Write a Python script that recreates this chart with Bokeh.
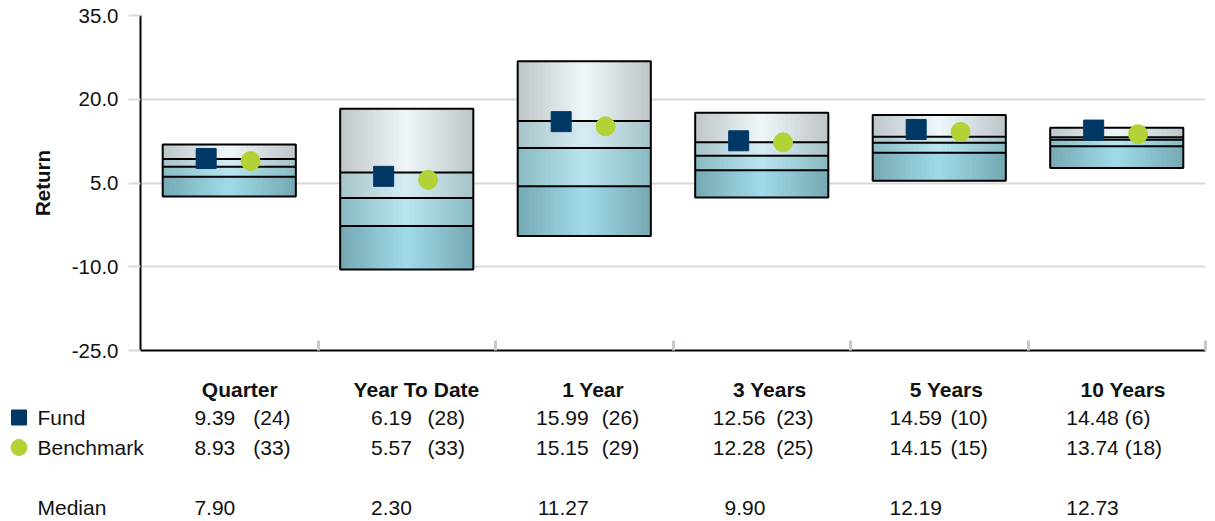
import numpy as np
from bokeh.plotting import figure
from bokeh.layouts import column
from bokeh.models import Range1d, FixedTicker, NumeralTickFormatter
from bokeh.embed import file_html
from bokeh.resources import INLINE
from bokeh.core.properties import value

# ---------------- data ----------------
categories = ["Quarter", "Year To Date", "1 Year", "3 Years", "5 Years", "10 Years"]
pct05 = [11.9, 18.3, 26.8, 17.6, 17.2, 14.9]
pct25 = [9.3, 6.9, 16.1, 12.3, 13.3, 13.2]
median = [7.90, 2.30, 11.27, 9.90, 12.19, 12.73]
pct75 = [6.1, -2.7, 4.4, 7.3, 10.4, 11.6]
pct95 = [2.6, -10.5, -4.5, 2.4, 5.4, 7.7]
fund = [9.39, 6.19, 15.99, 12.56, 14.59, 14.48]
fund_rank = [24, 28, 26, 23, 10, 6]
bench = [8.93, 5.57, 15.15, 12.28, 14.15, 13.74]
bench_rank = [33, 33, 29, 25, 15, 18]
y_ticks = [-25, -10, 5, 20, 35]

# ---------------- layout helpers ----------------
FONT = "Liberation Sans"
TXT = "#111111"
W, H = 1215, 521
H_TOP = 370
frame_l, frame_r, frame_t, frame_b = 140, 1205, 15, 350  # page pixels
n = len(categories)
px_x = (frame_r - frame_l) / n


def x_at(page_x):
    return -0.5 + (page_x - frame_l) / px_x


p = figure(width=W, height=H_TOP, x_range=Range1d(-0.5, n - 0.5),
           y_range=Range1d(y_ticks[0], y_ticks[-1]),
           output_backend="svg", toolbar_location=None,
           min_border_left=frame_l, min_border_right=W - frame_r,
           min_border_top=frame_t, min_border_bottom=H_TOP - frame_b)
p.outline_line_color = None
p.background_fill_color = "white"
p.border_fill_color = "white"

# axes
p.xgrid.grid_line_color = None
p.ygrid.grid_line_color = "#d9d9d9"
p.ygrid.grid_line_width = 2
p.yaxis.ticker = FixedTicker(ticks=y_ticks)
p.yaxis.formatter = NumeralTickFormatter(format="0.0")
p.yaxis.minor_tick_line_color = None
p.yaxis.major_tick_in = 0
p.yaxis.major_tick_out = 12
p.yaxis.major_tick_line_color = "#d9d9d9"
p.yaxis.major_tick_line_width = 2
p.yaxis.axis_line_color = "black"
p.yaxis.axis_line_width = 2
p.yaxis.major_label_standoff = 10
p.yaxis.major_label_text_font = FONT
p.yaxis.major_label_text_font_size = "20.5px"
p.yaxis.major_label_text_color = TXT
p.yaxis.axis_label = "Return"
p.yaxis.axis_label_text_font = FONT
p.yaxis.axis_label_text_font_size = "20.5px"
p.yaxis.axis_label_text_font_style = "bold"
p.yaxis.axis_label_text_color = TXT
p.yaxis.axis_label_standoff = 15

p.xaxis.ticker = FixedTicker(ticks=[i + 0.5 for i in range(n)])
p.xaxis.minor_tick_line_color = None
p.xaxis.major_tick_in = 10
p.xaxis.major_tick_out = 0
p.xaxis.major_tick_line_color = "#c3cbcf"
p.xaxis.major_tick_line_width = 3
p.xaxis.axis_line_color = "black"
p.xaxis.axis_line_width = 2
p.xaxis.major_label_text_font_size = "1px"
p.xaxis.major_label_text_color = None
p.xaxis.major_label_standoff = 0

# ---------------- gradient boxes ----------------
box_w = 0.75
N = 32
seg_colors = [  # (edge, centre)
    ((189, 197, 201), (240, 247, 249)),
    ((165, 195, 202), (214, 237, 242)),
    ((138, 186, 195), (184, 229, 239)),
    ((117, 169, 180), (160, 219, 233)),
]
levels = [pct05, pct25, median, pct75, pct95]


def mix(c1, c2, t):
    return "#%02x%02x%02x" % tuple(int(round(a * (1 - t) + b * t)) for a, b in zip(c1, c2))


L, R, T, B, C = [], [], [], [], []
for i in range(n):
    x0 = i - box_w / 2
    for s in range(4):
        edge, centre = seg_colors[s]
        for j in range(N):
            t = abs((j + 0.5) / N - 0.5) * 2
            L.append(x0 + j * box_w / N)
            R.append(x0 + (j + 1) * box_w / N)
            T.append(levels[s][i])
            B.append(levels[s + 1][i])
            C.append(mix(centre, edge, t))
p.quad(left=L, right=R, top=T, bottom=B, fill_color=C, line_color=C, line_width=1)

idx = np.arange(n)
p.quad(left=idx - box_w / 2, right=idx + box_w / 2, top=pct05, bottom=pct95,
       fill_color=None, line_color="black", line_width=2)
for lv in (pct25, median, pct75):
    p.segment(x0=idx - box_w / 2, x1=idx + box_w / 2, y0=lv, y1=lv,
              line_color="black", line_width=2)

FUND_C = "#003865"
BENCH_C = "#b2d235"
p.scatter(x=idx - 0.13, y=fund, marker="square", size=20, fill_color=FUND_C, line_color=FUND_C)
p.scatter(x=idx + 0.12, y=bench, marker="circle", size=19, fill_color=BENCH_C, line_color=BENCH_C)

# ---------------- table below (second figure, y in page pixels) ----------------
t = figure(width=W, height=H - H_TOP, x_range=Range1d(x_at(0), x_at(W)),
           y_range=Range1d(H, H_TOP), output_backend="svg", toolbar_location=None,
           x_axis_location=None, y_axis_location=None, min_border=0)
t.frame_align = False
t.outline_line_color = None
t.grid.grid_line_color = None
t.background_fill_color = "white"
t.border_fill_color = "white"

row_y = {"head": 389, "fund": 417, "bench": 447, "median": 507}
common = dict(text_font=value(FONT), text_font_size="21px", text_color=TXT,
              text_baseline="middle")

head_off = [10.5 - 0.8 * i for i in range(n)]
val_off = [6 - 0.8 * i for i in range(n)]
rank_off = [24 - 3.2 * i for i in range(n)]

t.text(x=list(idx), y=[row_y["head"]] * n, text=categories, x_offset=head_off,
       text_align="center", text_font_style="bold", **common)

for key, vals, ranks in (("fund", fund, fund_rank), ("bench", bench, bench_rank)):
    t.text(x=list(idx), y=[row_y[key]] * n, text=["%.2f" % v for v in vals],
           x_offset=val_off, text_align="right", **common)
    t.text(x=list(idx), y=[row_y[key]] * n, text=["(%d)" % r for r in ranks],
           x_offset=rank_off, text_align="left", **common)

t.text(x=list(idx), y=[row_y["median"]] * n, text=["%.2f" % v for v in median],
       x_offset=val_off, text_align="right", **common)

t.text(x=[x_at(37)] * 3, y=[row_y["fund"], row_y["bench"], row_y["median"]],
       text=["Fund", "Benchmark", "Median"], text_align="left", **common)

t.scatter(x=[x_at(18.5)], y=[row_y["fund"]], marker="square", size=15,
          fill_color=FUND_C, line_color=FUND_C)
t.scatter(x=[x_at(18.5)], y=[row_y["bench"]], marker="circle", size=16,
          fill_color=BENCH_C, line_color=BENCH_C)

layout = column(p, t, spacing=0)
open("out.html", "w").write(file_html(layout, INLINE))
